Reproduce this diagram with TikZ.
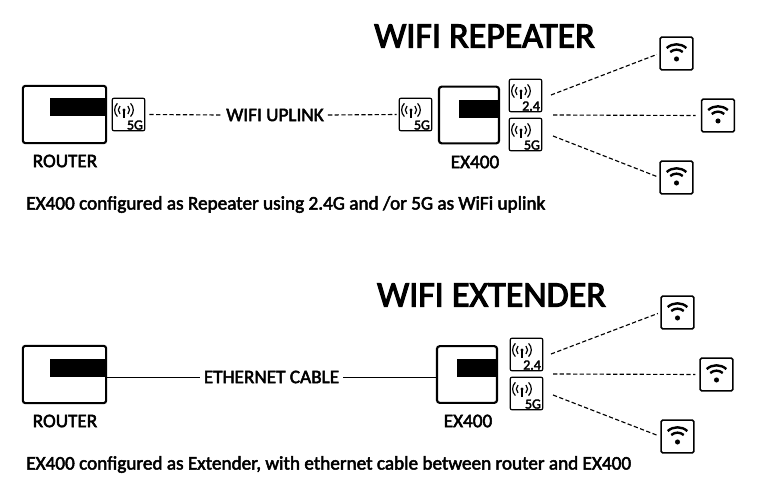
\documentclass[tikz,border=0pt]{standalone}
\usepackage{fontspec}
\setmainfont{Carlito}[FakeBold=2.6]
\newfontfamily\titlefont{Carlito}[FakeBold=3]
\usetikzlibrary{positioning}

\newcommand{\radiobox}[3]{
  \node (#1) at (#2) [radio] {};
  \draw[antenna] ([shift={(-3.4pt,3.4pt)}]#1.center) -- ([shift={(-3.4pt,-2.8pt)}]#1.center);
  \fill ([shift={(-3.4pt,3.4pt)}]#1.center) circle (1.2pt);
  \draw[antenna] ([shift={(-3.4pt,3.4pt)}]#1.center) ++(45:4.2pt) arc[start angle=45, end angle=-45, radius=4.2pt];
  \draw[antenna] ([shift={(-3.4pt,3.4pt)}]#1.center) ++(135:4.2pt) arc[start angle=135, end angle=225, radius=4.2pt];
  \draw[antenna] ([shift={(-3.4pt,3.4pt)}]#1.center) ++(45:7pt) arc[start angle=45, end angle=-45, radius=7pt];
  \draw[antenna] ([shift={(-3.4pt,3.4pt)}]#1.center) ++(135:7pt) arc[start angle=135, end angle=225, radius=7pt];
  \node (#1label) [bandlabel] at ([shift={(11pt,-7.9pt)}]#1.center) [anchor=east] {#3};
}
\newcommand{\wifibox}[2]{
  \node (#1) at (#2) [wifi] {};
  \fill ([yshift=-4.1pt]#1.center) circle (1.9pt);
  \draw[signal] ([yshift=-4.1pt]#1.center) ++(48:7pt) arc[start angle=48, end angle=132, radius=7pt];
  \draw[signal] ([yshift=-4.1pt]#1.center) ++(48:11pt) arc[start angle=48, end angle=132, radius=11pt];
}

\begin{document}
\begin{tikzpicture}[x=0.75pt, y=0.75pt]
  \tikzstyle{box}=[draw, line width=1.6pt, rounded corners=2pt, inner sep=0pt]
  \tikzstyle{router}=[box, minimum width=62.5pt, minimum height=43pt]
  \tikzstyle{extender}=[box, minimum width=45pt, minimum height=42.5pt]
  \tikzstyle{bar}=[fill=black, inner sep=0pt, minimum height=13.5pt]
  \tikzstyle{radio}=[draw, line width=0.9pt, rounded corners=1.5pt, inner sep=0pt, minimum size=24.5pt]
  \tikzstyle{wifi}=[draw, line width=1.2pt, rounded corners=1pt, inner sep=0pt, minimum size=24.5pt]
  \tikzstyle{antenna}=[line width=0.9pt]
  \tikzstyle{signal}=[line width=1.8pt]
  \tikzstyle{bandlabel}=[inner sep=0pt, font=\fontsize{10.5}{11}\selectfont]
  \tikzstyle{link}=[dashed, dash pattern=on 3.2pt off 1.8pt, line width=0.85pt]
  \tikzstyle{label}=[inner sep=3pt, font=\fontsize{14.4}{16}\selectfont]
  \tikzstyle{caption}=[inner sep=0pt, anchor=west, font=\fontsize{14.4}{16}\selectfont]
  \tikzstyle{headline}=[inner sep=0pt, font=\fontsize{27}{30}\titlefont]

  \useasboundingbox (0,0) rectangle (775,-500);

  % repeater
  \node (titlea) at (484.5,-36) [headline] {WIFI REPEATER};
  \node (routera) at (64.5,-114.5) [router] {};
  \node (routerabar) at (78,-107) [bar, minimum width=42pt] {};
  \node (routeralabel) at (65,-161) [label] {ROUTER};
  \radiobox{uplinka}{128.5,-114.5}{5G}
  \node (uplink) at (275,-115) [label] {WIFI UPLINK};
  \radiobox{uplinkb}{415.5,-114.5}{5G}
  \node (exa) at (469,-115) [extender] {};
  \node (exabar) at (479,-109) [bar, minimum width=30pt] {};
  \node (exalabel) at (475,-162) [label] {EX400};
  \radiobox{banda}{525.5,-95.5}{2.4}
  \radiobox{bandb}{525.5,-134.5}{5G}
  \wifibox{wifia}{676.5,-53.5}
  \wifibox{wifib}{718,-115.5}
  \wifibox{wific}{676.5,-177.5}
  \coordinate (fana) at (551,-95);
  \coordinate (fanb) at (553,-115);
  \coordinate (fanc) at (553,-136);
  \draw[link, shorten <=3pt] (uplinka.east) -- (uplink.west);
  \draw[link, shorten >=1.5pt] (uplink.east) -- (uplinkb.west);
  \draw[link, shorten >=2pt] (fana) -- (wifia.west);
  \draw[link, shorten >=4pt] (fanb) -- (wifib.west);
  \draw[link, shorten >=2pt] (fanc) -- (wific.west);
  \node (captiona) at (26,-204.5) [caption] {EX400 configured as Repeater using 2.4G and /or 5G as WiFi uplink};

  % extender
  \node (titleb) at (491.5,-295) [headline] {WIFI EXTENDER};
  \node (routerb) at (64.5,-374.5) [router] {};
  \node (routerbbar) at (78,-368) [bar, minimum width=42pt] {};
  \node (routerblabel) at (65,-421) [label] {ROUTER};
  \node (cable) at (271.5,-377) [label] {ETHERNET CABLE};
  \node (exb) at (467,-374.5) [extender] {};
  \node (exbbar) at (477,-368) [bar, minimum width=30pt] {};
  \node (exblabel) at (468,-421) [label] {EX400};
  \radiobox{bandc}{526.5,-354.5}{2.4}
  \radiobox{bandd}{526.5,-393.5}{5G}
  \wifibox{wifid}{677.5,-312.5}
  \wifibox{wifie}{716.5,-374.5}
  \wifibox{wifif}{677.5,-436.5}
  \coordinate (fand) at (551,-354);
  \coordinate (fane) at (553,-374);
  \coordinate (fanf) at (553,-395);
  \draw[line width=0.7pt] (routerb.east |- cable.west) -- (cable.west);
  \draw[line width=0.7pt] (cable.east) -- (exb.west |- cable.east);
  \draw[link, shorten >=2pt] (fand) -- (wifid.west);
  \draw[link, shorten >=3pt] (fane) -- (wifie.west);
  \draw[link, shorten >=2pt] (fanf) -- (wifif.west);
  \node (captionb) at (26,-464.5) [caption] {EX400 configured as Extender, with ethernet cable between router and EX400};
\end{tikzpicture}
\end{document}
